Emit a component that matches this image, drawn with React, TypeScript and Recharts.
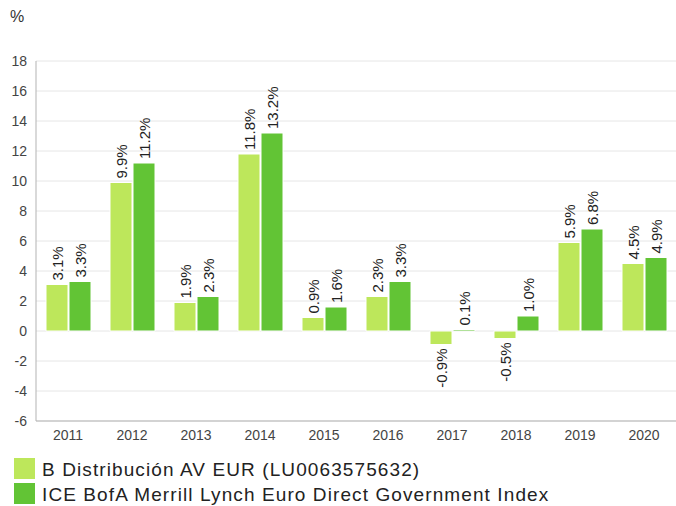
import { BarChart, Bar, XAxis, YAxis, CartesianGrid, LabelList } from "recharts";

const years = ["2011", "2012", "2013", "2014", "2015", "2016", "2017", "2018", "2019", "2020"];
const fundReturns = [3.1, 9.9, 1.9, 11.8, 0.9, 2.3, -0.9, -0.5, 5.9, 4.5];
const indexReturns = [3.3, 11.2, 2.3, 13.2, 1.6, 3.3, 0.1, 1.0, 6.8, 4.9];
const yTicks = [-6, -4, -2, 0, 2, 4, 6, 8, 10, 12, 14, 16, 18];

const fundName = "B Distribución AV EUR (LU0063575632)";
const indexName = "ICE BofA Merrill Lynch Euro Direct Government Index";

const LIGHT = "#bde75b";
const DARK = "#62c435";
const FONT = "'Liberation Sans', Arial, sans-serif";

const data = years.map((year, i) => ({
  year,
  fund: fundReturns[i],
  index: indexReturns[i],
}));

const legendItems = [
  { name: fundName, color: LIGHT },
  { name: indexName, color: DARK },
];

function RotatedLabel(props: any) {
  const { x, y, width, height, value } = props;
  const cx = x + width / 2;
  const top = Math.min(y, y + height);
  const bottom = Math.max(y, y + height);
  const neg = value < 0;
  const py = neg ? bottom + 4 : top - 4;
  return (
    <text
      x={cx}
      y={py}
      transform={`rotate(-90 ${cx} ${py})`}
      textAnchor={neg ? "end" : "start"}
      dominantBaseline="central"
      fontSize={15}
      fontFamily={FONT}
      fill="#222"
    >
      {value.toFixed(1)}%
    </text>
  );
}

export default function App() {
  return (
    <div style={{ position: "absolute", left: 0, top: 0, width: 676, height: 506, fontFamily: FONT }}>
      <div style={{ position: "absolute", left: 10, top: 8, fontSize: 16, color: "#333" }}>%</div>
      <BarChart
        width={676}
        height={506}
        data={data}
        margin={{ top: 61, right: 0, left: 0, bottom: 60 }}
        barCategoryGap={10}
        barGap={1}
      >
        <CartesianGrid vertical={false} stroke="#e6e6e6" />
        <XAxis
          dataKey="year"
          tickLine={false}
          axisLine={{ stroke: "#b3b3b3" }}
          tick={{ fontSize: 14, fill: "#444", fontFamily: FONT }}
          height={25}
          tickMargin={3}
        />
        <YAxis
          domain={[-6, 18]}
          ticks={yTicks}
          interval={0}
          tickLine={false}
          axisLine={{ stroke: "#b3b3b3" }}
          tick={{ fontSize: 14, fill: "#444", fontFamily: FONT }}
          width={36}
          tickMargin={3}
        />
        <Bar dataKey="fund" name={fundName} fill={LIGHT} stroke="#fff" strokeWidth={1} isAnimationActive={false}>
          <LabelList dataKey="fund" content={RotatedLabel} />
        </Bar>
        <Bar dataKey="index" name={indexName} fill={DARK} stroke="#fff" strokeWidth={1} isAnimationActive={false}>
          <LabelList dataKey="index" content={RotatedLabel} />
        </Bar>
      </BarChart>
      {legendItems.map((item, i) => (
        <div
          key={item.name}
          style={{ position: "absolute", left: 14, top: 458 + i * 25, height: 21, display: "flex", alignItems: "center" }}
        >
          <span style={{ display: "inline-block", width: 21, height: 21, background: item.color, marginRight: 7 }} />
          <span
            style={{ fontSize: 19, letterSpacing: 1.1, color: "#222", lineHeight: "21px", position: "relative", top: 1 }}
          >
            {item.name}
          </span>
        </div>
      ))}
    </div>
  );
}
